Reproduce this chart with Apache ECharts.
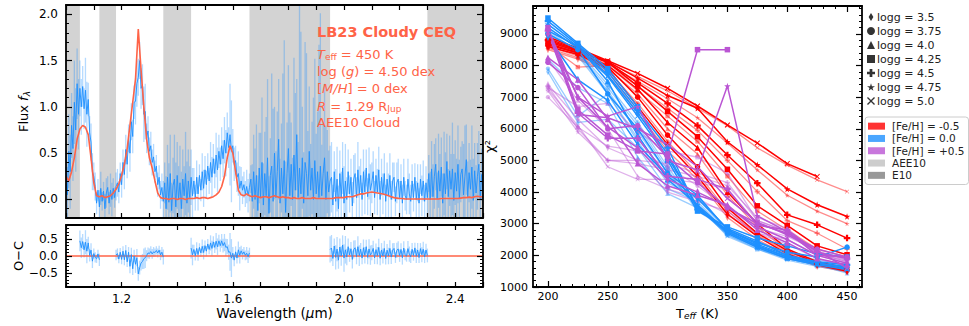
<!DOCTYPE html>
<html><head><meta charset="utf-8">
<script src="https://cdn.jsdelivr.net/npm/echarts@6/dist/echarts.min.js"></script>
<style>html,body{margin:0;padding:0;background:#fff}#c{width:969px;height:326px}</style>
</head><body><div id="c"></div>
<script>
// ---------------- DATA ----------------
const WMIN = 1.0, WMAX = 2.5;
const telluricBands = [[1.0,1.05],[1.12,1.18],[1.35,1.45],[1.66,1.95],[2.30,2.50]];
const fitSegments = [[1.05,1.12],[1.18,1.35],[1.45,1.66],[1.95,2.30]];
// observed flux, sampled every 0.005 um from 1.000 to 2.500
const obsFlux = [
 0.35,0.05,0.52,0.30,0.80,0.55,1.05,0.75,1.25,0.92,1.20,
 1.00,1.22,0.98,1.18,0.92,1.08,0.72,0.62,0.30,0.25,
 0.14,-0.04,0.10,-0.08,0.12,-0.02,0.09,-0.10,0.07,0.13,-0.04,0.10,0.00,0.12,0.02,0.14,
 0.18,0.08,0.28,0.16,0.40,0.27,0.54,0.38,0.66,0.50,0.84,0.68,1.05,1.06,1.25,1.32,1.50,1.20,1.24,0.92,0.95,0.66,0.74,0.52,
 0.58,0.40,0.46,0.30,0.36,0.16,0.24,0.05,0.13,-0.02,
 0.18,-0.10,0.24,-0.03,0.28,-0.12,0.15,0.22,-0.08,0.26,0.00,0.18,-0.10,0.22,0.04,0.28,-0.04,0.20,0.02,0.24,
 0.04,0.20,0.02,0.24,0.06,0.26,0.10,0.30,0.12,0.32,0.16,0.36,0.20,0.40,0.24,0.44,0.28,0.48,0.32,0.52,
 0.38,0.58,0.44,0.64,0.50,0.72,0.56,0.70,0.52,0.58,0.38,0.42,0.24,0.28,0.12,0.20,0.10,0.16,0.06,0.14,0.04,0.13,
 0.22,-0.02,0.30,0.00,0.26,-0.12,0.34,0.02,0.40,-0.06,
 0.28,0.04,0.45,-0.15,0.26,0.36,-0.02,0.50,0.02,0.30,
 0.65,-0.04,0.34,0.06,0.42,-0.14,0.28,0.55,0.04,0.38,
 0.00,0.48,0.10,0.70,0.02,0.34,0.06,0.45,-0.04,0.40,
 0.28,0.04,0.52,0.10,0.34,0.00,0.42,0.06,0.30,0.02,
 0.36,0.04,0.28,0.45,0.00,0.30,0.08,0.20,
 0.24,-0.06,0.30,-0.02,0.22,-0.10,0.28,0.02,0.34,-0.04,
 0.20,0.00,0.30,0.06,0.24,-0.07,0.22,0.28,0.02,0.32,
 0.06,0.26,0.00,0.30,0.08,0.34,0.03,0.28,0.10,0.18,
 0.30,0.02,0.26,0.08,0.32,0.00,0.24,0.06,0.28,-0.02,
 0.22,0.04,0.26,0.00,0.20,0.24,-0.02,0.18,0.22,0.02,
 0.20,-0.04,0.24,0.04,0.00,0.22,0.06,-0.02,0.20,0.02,
 0.24,0.00,0.18,-0.04,0.22,0.04,0.20,-0.02,0.18,0.02,
 0.28,0.00,0.33,0.03,0.25,0.38,0.01,0.31,0.09,0.35,
 -0.04,0.28,0.06,0.41,0.03,0.31,0.11,0.33,-0.01,0.29,
 0.09,0.38,0.01,0.27,0.33,0.05,0.25,0.43,0.03,0.29,
 0.11,0.35,-0.01,0.31,0.07,0.25,0.38,0.01,0.27,0.09
];
// flux uncertainty, every 0.01 um from 1.00 to 2.50
const obsErr = [
 0.30,0.40,0.35,0.45,0.38,0.30,
 0.22,0.35,0.18,0.20,0.15,
 0.12,0.18,0.10,0.16,0.12,0.18,0.11,0.15,0.12,
 0.14,0.16,0.15,0.20,0.18,0.25,0.20,0.22,0.30,0.16,0.15,
 0.14,0.12,0.13,0.15,0.22,
 0.35,0.42,0.30,0.48,0.36,0.40,0.32,0.45,0.34,0.30,
 0.14,0.18,0.12,0.20,0.15,0.14,0.22,0.16,0.24,0.18,0.20,0.25,0.22,0.55,0.18,0.16,0.24,0.15,0.14,0.18,0.15,
 0.40,0.55,0.38,0.70,0.45,0.85,0.40,1.00,0.50,0.65,0.48,1.30,0.55,0.90,0.45,1.05,0.60,1.75,0.55,1.30,0.70,0.50,1.10,0.65,1.65,0.55,0.80,0.45,0.38,
 0.22,0.35,0.25,0.28,0.40,0.24,0.20,0.26,0.22,0.30,0.18,0.24,0.20,0.28,0.22,0.18,0.25,0.20,0.22,0.18,0.24,0.20,0.16,0.22,0.18,0.20,0.16,0.22,0.18,0.15,0.20,0.16,0.22,0.18,0.20,
 0.30,0.35,0.28,0.40,0.32,0.45,0.30,0.38,0.50,0.35,0.42,0.30,0.55,0.38,0.32,0.45,0.30,0.36,0.28,0.30
];
// best-fit model flux, every 0.01 um from 1.00 to 2.50
const modelFlux = [
 0.25,0.20,0.30,0.45,0.65,0.76,0.80,0.78,0.70,0.45,0.18,
 0.04,0.03,0.04,0.02,0.03,0.04,0.07,0.11,0.17,
 0.26,0.38,0.55,0.80,1.05,1.30,1.84,1.40,1.00,0.65,0.45,0.34,0.20,0.07,0.02,0.01,
 0.01,0.00,0.01,0.01,0.00,0.01,0.01,0.00,0.01,0.01,
 0.01,0.02,0.01,0.02,0.02,0.01,0.02,
 0.03,0.05,0.08,0.14,0.25,0.45,0.58,0.50,0.30,0.10,0.05,0.04,0.06,0.04,
 0.03,0.04,0.03,0.02,0.03,0.03,0.02,0.03,0.04,0.03,0.02,0.03,0.02,0.02,0.01,0.02,0.01,0.01,0.02,0.01,0.01,0.01,0.02,0.01,0.01,0.01,0.01,0.01,0.01,
 0.01,0.02,0.02,0.02,0.02,0.03,0.03,0.03,0.04,0.05,
 0.06,0.06,0.07,0.075,0.08,0.075,0.07,0.065,0.06,0.05,
 0.04,0.03,0.02,0.015,0.01,0.01,0.005,0.005,0.005,0.005,
 0.005,0.005,0.005,0.005,0.005,0.005,0.005,0.005,0.005,0.01,0.01,0.01,0.01,0.01,0.01,
 0.01,0.015,0.02,0.02,0.025,0.02,0.03,0.035,0.03,0.03
];
const obsWave = obsFlux.map((_, i) => +(WMIN + i * 0.005).toFixed(3));
const modelWave = modelFlux.map((_, j) => +(WMIN + j * 0.01).toFixed(2));

const modelTitle = 'LB23 Cloudy CEQ';

// chi^2 grid
const teff = [200,225,250,275,300,325,350,375,400,425,450];
const loggLabels = ['3.5','3.75','4.0','4.25','4.5','4.75','5.0'];
const fehLabels = ['[Fe/H] = -0.5','[Fe/H] = 0.0','[Fe/H] = +0.5'];
const chiM05_E10 = [
 [8600,8350,7900,6700,5500,4500,3300,2600,2050,1700,1500],
 [8650,8400,7950,7000,5800,4800,3500,2700,2150,1750,1550],
 [8700,8400,8000,7250,6200,5400,4000,3000,2200,1800,1600],
 [8750,8450,8100,7350,6550,5750,4720,3565,2945,2300,2020],
 [8800,8480,8100,7450,6800,6100,5170,4280,3280,2965,2545],
 [8850,8500,8120,7600,7050,6650,5590,4860,4100,3600,3230],
 [8900,8550,8150,7750,7280,6720,6120,5550,4900,4490,null]
];
const chiM05_AEE10 = [
 [8500,8200,7800,6500,5300,4400,3200,2500,2000,1650,1480],
 [8550,8250,7850,6800,5600,4600,3400,2650,2100,1700,1520],
 [8600,8300,7900,7100,6000,5200,3900,2900,2150,1750,1560],
 [8650,7950,8000,7200,6400,5600,4500,3400,2800,2200,1950],
 [8700,8350,8000,7350,6650,5950,5000,4015,3100,2700,2200],
 [8750,8400,8050,7500,6950,6350,5550,4700,3900,3400,3000],
 [8800,8450,8100,7650,7200,6650,6100,5400,4850,4385,4015]
];
const chiP00_E10 = [
 [8900,7550,6900,5500,4500,3800,2850,2450,2000,1750,1650],
 [9000,8500,7100,6000,4600,3900,2800,2400,2100,1950,2260],
 [9100,8600,7500,5800,4400,3600,2750,2300,1950,1750,1600],
 [9500,8700,7900,6700,5000,3400,2900,2550,2300,2050,1950],
 [9400,8650,7800,6600,5400,3450,2800,2350,2000,1800,1700],
 [9300,8600,7700,6500,5200,3500,2750,2300,1950,1750,1600],
 [9200,8550,7650,6400,5100,3550,2700,2250,1900,1700,1550]
];
const chiP00_AEE10 = [
 [7800,6200,6300,5400,4100,3700,2700,2250,1900,1700,1500],
 [7900,6400,7100,5600,4300,3800,2750,2300,1950,1750,1600],
 [8200,7300,6800,5100,3950,3500,2650,2200,1900,1700,1440],
 [9000,8400,7300,6100,4700,3400,2800,2400,2100,1850,1700],
 [9100,8450,7400,6200,4800,3500,2700,2300,1950,1750,1650],
 [9050,8350,7200,5900,4600,3550,2650,2250,1900,1700,1550],
 [8950,8300,7100,5700,4500,3600,2600,2200,1850,1650,1500]
];
const chiP05_E10 = [
 [9000,7000,6050,5400,4400,4000,3550,2900,2500,2000,1750],
 [8100,7300,6000,6100,5100,4300,3500,3000,2700,2200,1950],
 [8250,7550,6300,4900,4200,3900,3600,2800,2400,1900,1700],
 [9200,6600,5800,5300,5200,8500,8500,null,null,null,null],
 [9100,6500,5700,5700,4500,4400,4100,2950,2800,2100,1900],
 [9150,7000,6400,6700,5000,4700,7350,3250,2750,2000,1950],
 [9050,6450,6350,6000,5500,4800,3800,3050,2650,2150,1600]
];
const chiP05_AEE10 = [
 [7400,6300,5400,5000,4000,3700,3400,2700,2350,1900,1650],
 [7000,6050,5450,5300,4800,4200,3500,2850,2600,2150,1850],
 [8200,6900,6000,4500,4100,3800,3300,2700,2500,2000,1750],
 [7300,6700,6800,5900,5300,5100,4600,3100,2750,2050,1800],
 [7350,6000,5000,5000,4900,4600,4300,3100,2750,2050,1850],
 [7200,5900,5000,4900,4700,4500,4200,3200,2850,2100,1900],
 [7250,6100,4800,4400,4400,4300,4100,3000,2700,2050,1800]
];

// ---------------- STYLE ----------------
const FONT = 'DejaVu Sans';
const TOMATO = '#ff6347';
const BLUE = '#1e90ff';
const fehColors = [[255,0,0],[30,144,255],[186,85,211]];
const SYM_DIAMOND = 'path://M50,0 L80,50 L50,100 L20,50 Z';
const SYM_PLUS = 'path://M33,0 H67 V33 H100 V67 H67 V100 H33 V67 H0 V33 H33 Z';
const SYM_STAR = 'path://M50,0 L61,35 L98,35 L68,57 L79,91 L50,70 L21,91 L32,57 L2,35 L39,35 Z';
const SYM_X = 'path://M0,12 L12,0 L50,38 L88,0 L100,12 L62,50 L100,88 L88,100 L50,62 L12,100 L0,88 L38,50 Z';
const loggSymbols = [SYM_DIAMOND,'circle','triangle','rect',SYM_PLUS,SYM_STAR,SYM_X];
const loggSizes = [[4,8],5.5,6,5.5,6.5,6.5,5.5];

function steps(a, b, s) { const out = []; for (let k = 0; a + k * s <= b + 1e-9; k++) out.push(+(a + k * s).toFixed(6)); return out; }
const fmt1 = v => (v < 0 ? '\u2212' : '') + Math.abs(v).toFixed(1);

const xAxes = [], yAxes = [];
function addAxis(list, o) {
  const idx = list.length;
  list.push({
    type: 'value', gridIndex: o.grid, position: o.pos, min: o.min, max: o.max,
    axisLine: { show: true, onZero: false, lineStyle: { color: '#000', width: 1.8 } },
    axisTick: { show: true, inside: true, length: o.majorLen || 6, customValues: o.major, lineStyle: { color: '#000', width: 1.2 } },
    axisLabel: { show: !!o.labels, customValues: o.labels || [], formatter: o.fmt, color: '#000', fontFamily: FONT, fontSize: o.labelSize || 12, margin: o.margin || 6, showMinLabel: true, showMaxLabel: true },
    splitLine: { show: false }, minorTick: { show: false },
    name: o.name || '', nameLocation: 'middle', nameGap: o.nameGap || 0, nameTextStyle: o.nameStyle || {},
    silent: true, z: 10
  });
  if (o.minor) list.push({
    type: 'value', gridIndex: o.grid, position: o.pos, min: o.min, max: o.max,
    axisLine: { show: false, onZero: false },
    axisTick: { show: true, inside: true, length: o.minorLen || 3, customValues: o.minor, lineStyle: { color: '#000', width: 1 } },
    axisLabel: { show: false }, splitLine: { show: false }, silent: true, z: 10
  });
  return idx;
}
const sub = { fontFamily: FONT, fontStyle: 'italic', fontSize: 9, padding: [6, 0, 0, 0] };

// grid 0: spectrum
const wlMajor = steps(1.0, 2.5, 0.1);
const X0 = addAxis(xAxes, { grid: 0, pos: 'bottom', min: WMIN, max: WMAX, major: wlMajor, majorLen: 5 });
addAxis(xAxes, { grid: 0, pos: 'top', min: WMIN, max: WMAX, major: wlMajor, majorLen: 5 });
const Y0 = addAxis(yAxes, { grid: 0, pos: 'left', min: -0.2, max: 2.1, major: [0, 0.5, 1, 1.5, 2], minor: steps(-0.2, 2.1, 0.1),
  labels: [0, 0.5, 1, 1.5, 2], fmt: fmt1, margin: 8, name: '{n|Flux }{i|f}{s|\u03bb}', nameGap: 35,
  nameStyle: { fontFamily: FONT, fontSize: 13, color: '#000', rich: { n: { fontFamily: FONT, fontSize: 13 }, i: { fontFamily: FONT, fontSize: 13, fontStyle: 'italic' }, s: sub } } });
addAxis(yAxes, { grid: 0, pos: 'right', min: -0.2, max: 2.1, major: [0, 0.5, 1, 1.5, 2], minor: steps(-0.2, 2.1, 0.1) });

// grid 1: O-C
const X1 = addAxis(xAxes, { grid: 1, pos: 'bottom', min: WMIN, max: WMAX, major: wlMajor, majorLen: 5,
  labels: [1.2, 1.6, 2.0, 2.4], fmt: fmt1, margin: 6, name: '{n|Wavelength (}{i|\u03bc}{n|m)}', nameGap: 18,
  nameStyle: { fontFamily: FONT, fontSize: 13.5, color: '#000', rich: { n: { fontFamily: FONT, fontSize: 13.5 }, i: { fontFamily: FONT, fontSize: 13.5, fontStyle: 'italic' } } } });
addAxis(xAxes, { grid: 1, pos: 'top', min: WMIN, max: WMAX, major: wlMajor, majorLen: 5 });
const Y1 = addAxis(yAxes, { grid: 1, pos: 'left', min: -0.9, max: 0.9, major: [-0.5, 0, 0.5], minor: steps(-0.9, 0.9, 0.1),
  labels: [-0.5, 0, 0.5], fmt: fmt1, margin: 8, name: 'O\u2212C', nameGap: 35,
  nameStyle: { fontFamily: FONT, fontSize: 13, color: '#000' } });
addAxis(yAxes, { grid: 1, pos: 'right', min: -0.9, max: 0.9, major: [-0.5, 0, 0.5], minor: steps(-0.9, 0.9, 0.1) });

// grid 2: chi^2
const tMajor = steps(200, 450, 50), tMinor = steps(190, 460, 10);
const cMajor = steps(1000, 9000, 1000), cMinor = steps(1000, 9800, 200);
const X2 = addAxis(xAxes, { grid: 2, pos: 'bottom', min: 187.5, max: 462.5, major: tMajor, minor: tMinor,
  labels: tMajor, fmt: v => String(v), labelSize: 11, margin: 4, name: '{n|T}{s|eff}{n| (K)}', nameGap: 8,
  nameStyle: { fontFamily: FONT, fontSize: 13, color: '#000', rich: { n: { fontFamily: FONT, fontSize: 13 }, s: sub } } });
addAxis(xAxes, { grid: 2, pos: 'top', min: 187.5, max: 462.5, major: tMajor, minor: tMinor });
const Y2 = addAxis(yAxes, { grid: 2, pos: 'left', min: 1000, max: 9880, major: cMajor, minor: cMinor,
  labels: cMajor, fmt: v => String(v), labelSize: 11, margin: 5, name: '\u03c7\u00b2', nameGap: 29,
  nameStyle: { fontFamily: FONT, fontSize: 13, color: '#000' } });
addAxis(yAxes, { grid: 2, pos: 'right', min: 1000, max: 9880, major: cMajor, minor: cMinor });

// ---------------- SERIES ----------------
const inSeg = w => fitSegments.some(s => w >= s[0] - 1e-9 && w <= s[1] + 1e-9);
const series = [];
series.push({
  type: 'custom', name: 'telluric', xAxisIndex: X0, yAxisIndex: Y0, data: telluricBands, encode: { x: [0, 1] }, z: 1, silent: true,
  renderItem: (p, api) => {
    const a = api.coord([api.value(0), 0]), b = api.coord([api.value(1), 0]), cs = p.coordSys;
    return { type: 'rect', shape: { x: a[0], y: cs.y, width: b[0] - a[0], height: cs.height }, style: { fill: '#d3d3d3' } };
  }
});
function errBars(xi, yi, data) {
  return {
    type: 'custom', xAxisIndex: xi, yAxisIndex: yi, data, encode: { x: 0, y: 1 }, z: 2, silent: true, clip: true,
    renderItem: (p, api) => {
      const x = api.value(0), v = api.value(1), e = api.value(2);
      const a = api.coord([x, v - e]), b = api.coord([x, v + e]);
      return { type: 'line', shape: { x1: a[0], y1: a[1], x2: b[0], y2: b[1] }, style: { stroke: 'rgba(30,144,255,0.33)', lineWidth: 1.3 } };
    }
  };
}
series.push(errBars(X0, Y0, obsWave.map((w, i) => [w, obsFlux[i], obsErr[i >> 1]])));
series.push({ type: 'line', xAxisIndex: X0, yAxisIndex: Y0, data: obsWave.map((w, i) => [w, obsFlux[i]]), symbol: 'none', clip: true, z: 3, silent: true,
  lineStyle: { color: BLUE, width: 0.9 } });
series.push({ type: 'line', xAxisIndex: X0, yAxisIndex: Y0, data: modelWave.map((w, j) => [w, modelFlux[j]]), symbol: 'none', clip: true, z: 4, silent: true,
  lineStyle: { color: TOMATO, width: 1.6 } });

// O-C
series.push({ type: 'line', xAxisIndex: X1, yAxisIndex: Y1, data: [[WMIN, 0], [WMAX, 0]], symbol: 'none', z: 2, silent: true, lineStyle: { color: TOMATO, width: 1.6 } });
const resid = obsWave.map((w, i) => inSeg(w) ? [w, +(obsFlux[i] - modelFlux[i >> 1]).toFixed(3), obsErr[i >> 1]] : null);
series.push(errBars(X1, Y1, resid.filter(r => r)));
series.push({ type: 'line', xAxisIndex: X1, yAxisIndex: Y1, data: resid.map((r, i) => r ? [r[0], r[1]] : [obsWave[i], '-']), symbol: 'none', clip: true, z: 3, silent: true,
  connectNulls: false, lineStyle: { color: BLUE, width: 0.9 } });

// chi^2 lines
const chiSets = [[chiM05_AEE10, chiM05_E10], [chiP00_AEE10, chiP00_E10], [chiP05_AEE10, chiP05_E10]];
chiSets.forEach((pair, m) => {
  pair.forEach((rows, c) => {
    const col = fehColors[m];
    const color = c === 0 ? `rgba(${col[0]},${col[1]},${col[2]},0.45)` : `rgb(${col[0]},${col[1]},${col[2]})`;
    rows.forEach((vals, g) => {
      const sz = loggSizes[g];
      series.push({
        type: 'line', xAxisIndex: X2, yAxisIndex: Y2, silent: true, z: 3 + c,
        data: teff.map((t, k) => [t, vals[k] == null ? '-' : vals[k]]),
        symbol: loggSymbols[g], symbolSize: c === 0 ? (Array.isArray(sz) ? [3.5, 7] : sz * 0.8) : sz,
        showSymbol: true, showAllSymbol: true, connectNulls: false,
        lineStyle: { color, width: c === 0 ? 1.3 : 1.5 }, itemStyle: { color }
      });
    });
  });
});
// legend proxies
loggLabels.forEach((l, g) => series.push({ type: 'scatter', name: 'logg = ' + l, xAxisIndex: X2, yAxisIndex: Y2, data: [], itemStyle: { color: '#000' } }));
const fehLegendColors = ['#ff0000', '#1e90ff', '#ba55d3', '#c0c0c0', '#808080'];
const fehLegendNames = fehLabels.concat(['AEE10', 'E10']);
fehLegendNames.forEach((n, k) => series.push({ type: 'scatter', name: n, xAxisIndex: X2, yAxisIndex: Y2, data: [], itemStyle: { color: fehLegendColors[k] } }));

// ---------------- TEXT ----------------
const txtRich = {
  n: { fontFamily: FONT, fontSize: 13, fill: TOMATO },
  i: { fontFamily: FONT, fontSize: 13, fontStyle: 'italic', fill: TOMATO },
  s: { fontFamily: FONT, fontSize: 9, padding: [6, 0, 0, 0], fill: TOMATO }
};
const richLines = [
  '{i|T}{s|eff}{n| = 450 K}',
  '{n|log (}{i|g}{n|) = 4.50 dex}',
  '{n|[}{i|M/H}{n|] = 0 dex}',
  '{i|R}{n| = 1.29 R}{s|Jup}',
  '{n|AEE10 Cloud}'
];
const lineY = [54, 71, 88, 106, 122];
const graphic = [{ type: 'text', x: 317, y: 32, z: 50, silent: true,
  style: { text: modelTitle, fill: TOMATO, fontFamily: FONT, fontSize: 14.5, fontWeight: 'bold', align: 'left', verticalAlign: 'middle' } }];
richLines.forEach((t, k) => graphic.push({ type: 'text', x: 317, y: lineY[k], z: 50, silent: true,
  style: { text: t, rich: txtRich, fill: TOMATO, fontFamily: FONT, fontSize: 13, align: 'left', verticalAlign: 'middle' } }));

// ---------------- OPTION ----------------
const option = {
  animation: false,
  textStyle: { fontFamily: FONT },
  grid: [
    { left: 66, top: 5, width: 417, height: 213, containLabel: false, outerBoundsMode: 'none' },
    { left: 66, top: 225, width: 417, height: 62, containLabel: false, outerBoundsMode: 'none' },
    { left: 533, top: 6, width: 329, height: 281, containLabel: false, outerBoundsMode: 'none' }
  ],
  xAxis: xAxes, yAxis: yAxes,
  legend: [
    { orient: 'vertical', left: 867, top: 10, padding: 0, itemWidth: 8, itemHeight: 8, itemGap: 0, selectedMode: false,
      textStyle: { fontFamily: FONT, fontSize: 11, color: '#222', lineHeight: 14, padding: [0, 0, 0, -3] },
      data: loggLabels.map((l, g) => ({ name: 'logg = ' + l, icon: loggSymbols[g] })) },
    { orient: 'vertical', left: 865, top: 117, padding: [3, 4, 3, 3], itemWidth: 17, itemHeight: 7, itemGap: 0, selectedMode: false,
      borderColor: '#cccccc', borderWidth: 1, borderRadius: 3,
      textStyle: { fontFamily: FONT, fontSize: 10.5, color: '#222', lineHeight: 12.3, padding: [0, 0, 0, 2] },
      data: fehLegendNames.map(n => ({ name: n, icon: 'rect' })) }
  ],
  graphic,
  series
};
const chart = echarts.init(document.getElementById('c'), null, { renderer: 'svg', width: 969, height: 326 });
chart.setOption(option);
</script>
</body></html>
